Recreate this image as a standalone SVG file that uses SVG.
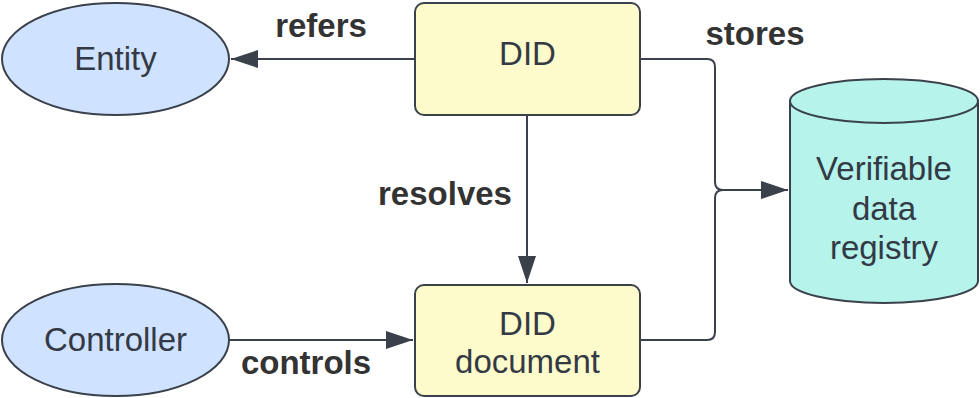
<svg xmlns="http://www.w3.org/2000/svg" width="980" height="398" viewBox="0 0 980 398">
  <style>
    .node-text { font-family: "Liberation Sans", Arial, sans-serif; font-size: 33px; fill: #333a45; text-anchor: middle; }
    .label { font-family: "Liberation Sans", Arial, sans-serif; font-size: 33px; font-weight: bold; fill: #333333; text-anchor: middle; }
    .ellipse { fill: #cfe2ff; stroke: #3a414a; stroke-width: 2; }
    .box { fill: #fdfbcb; stroke: #3a414a; stroke-width: 2; }
    .cyl { fill: #b5f3eb; stroke: #3a414a; stroke-width: 2; }
    .edge { fill: none; stroke: #3a414a; stroke-width: 2; }
  </style>
  <defs>
    <marker id="arrow" markerWidth="28" markerHeight="20" refX="27" refY="9.5" orient="auto" markerUnits="userSpaceOnUse">
      <path d="M0,0.5 L27,9.5 L0,18.5 Z" fill="#3a414a"/>
    </marker>
  </defs>

  <g id="connectors">
    <path class="edge" d="M415,59 H231" marker-end="url(#arrow)"/>
    <path class="edge" d="M527,115 V283" marker-end="url(#arrow)"/>
    <path class="edge" d="M229,340 H413" marker-end="url(#arrow)"/>
    <path class="edge" d="M640,59 H707 Q715,59 715,67 V182 Q715,190 723,190 H788" marker-end="url(#arrow)"/>
    <path class="edge" d="M640,340 H707 Q715,340 715,332 V198 Q715,190 723,190"/>
    <text class="label" x="321" y="37">refers</text>
    <text class="label" x="755" y="45">stores</text>
    <text class="label" x="445" y="205">resolves</text>
    <text class="label" x="306" y="374">controls</text>
  </g>

  <g id="entity">
    <ellipse class="ellipse" cx="115.5" cy="59" rx="113.5" ry="56"/>
    <text class="node-text" x="115.5" y="70">Entity</text>
  </g>

  <g id="did">
    <rect class="box" x="415" y="3" width="225" height="112" rx="9"/>
    <text class="node-text" x="527.5" y="65">DID</text>
  </g>

  <g id="controller">
    <ellipse class="ellipse" cx="115.5" cy="340" rx="113.5" ry="56"/>
    <text class="node-text" x="115.5" y="351">Controller</text>
  </g>

  <g id="did-document">
    <rect class="box" x="415" y="285" width="225" height="111" rx="9"/>
    <text class="node-text" x="527.5" y="335">DID</text>
    <text class="node-text" x="527.5" y="373">document</text>
  </g>

  <g id="registry">
    <path class="cyl" d="M790,101 A94,22 0 0 1 978,101 V281 A94,22 0 0 1 790,281 Z"/>
    <path class="cyl" d="M790,101 A94,22 0 0 0 978,101"/>
    <text class="node-text" x="884" y="180">Verifiable</text>
    <text class="node-text" x="884" y="220">data</text>
    <text class="node-text" x="884" y="259">registry</text>
  </g>
</svg>
